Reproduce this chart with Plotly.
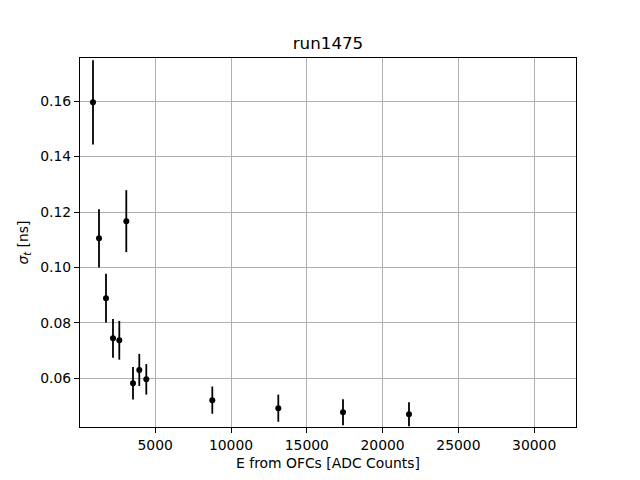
import plotly.graph_objects as go

energy = [897, 1293, 1755, 2216, 2632, 3094, 3536, 3951, 4413, 8767, 13120, 17388, 21741]
sigma_t = [0.1596, 0.1105, 0.0889, 0.0744, 0.0737, 0.1167, 0.0582, 0.0630, 0.0596, 0.0521, 0.0492, 0.0477, 0.0470]
sigma_err = [0.0152, 0.0105, 0.0088, 0.0070, 0.0070, 0.0112, 0.0059, 0.0058, 0.0055, 0.0049, 0.0049, 0.0047, 0.0043]

fig = go.Figure()
fig.add_trace(go.Scatter(
    x=energy, y=sigma_t, mode="markers",
    marker=dict(color="black", size=6),
    error_y=dict(type="data", array=sigma_err, visible=True, color="black", thickness=1.8, width=0),
    showlegend=False,
))

axis_common = dict(
    showline=True, linecolor="black", linewidth=1, mirror=True,
    showgrid=True, gridcolor="#b0b0b0", gridwidth=1,
    ticks="outside", ticklen=5, tickwidth=1, tickcolor="black",
    zeroline=False,
    tickfont=dict(family="DejaVu Sans", size=13.9, color="black"),
)

W, H = 632, 472
fig.update_layout(
    width=W, height=H,
    paper_bgcolor="white", plot_bgcolor="white",
    margin=dict(l=72, r=64, t=49.6, b=52.8),
    title=dict(text="run1475", x=(328 - 8) / W, xanchor="center", y=1 - 35 / H, yanchor="middle",
               font=dict(family="DejaVu Sans", size=16.7, color="black")),
    xaxis=dict(range=[40, 32757], tickvals=[5000, 10000, 15000, 20000, 25000, 30000],
               ticktext=["5000", "10000", "15000", "20000", "25000", "30000"],
               title=dict(text="E from OFCs [ADC Counts]", standoff=6,
                          font=dict(family="DejaVu Sans", size=13.9, color="black")),
               **axis_common),
    yaxis=dict(range=[0.0424, 0.1756], tickvals=[0.06, 0.08, 0.10, 0.12, 0.14, 0.16],
               ticktext=["0.06", "0.08", "0.10", "0.12", "0.14", "0.16"],
               title=dict(text="<i>σ<sub>t</sub></i> [ns]", standoff=8,
                          font=dict(family="DejaVu Sans", size=13.9, color="black")),
               **axis_common),
)

fig.write_html("out.html")
